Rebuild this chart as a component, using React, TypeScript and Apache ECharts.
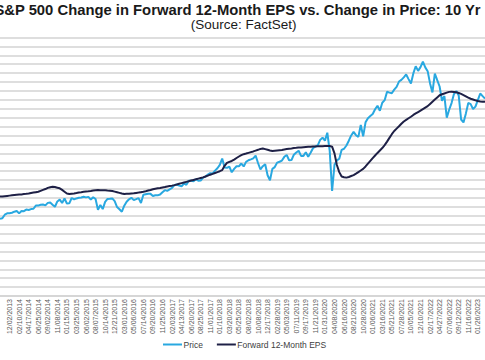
import React, { useEffect, useRef } from "react";
import * as echarts from "echarts";

const tickLabels = [
  "12/02/2013", "02/10/2014", "04/17/2014", "06/25/2014", "09/02/2014", "11/08/2014",
  "01/15/2015", "03/25/2015", "06/02/2015", "08/07/2015", "10/14/2015", "12/21/2015",
  "03/01/2016", "05/06/2016", "07/14/2016", "09/20/2016", "11/25/2016",
  "02/03/2017", "04/13/2017", "06/20/2017", "08/25/2017", "11/01/2017",
  "01/10/2018", "03/20/2018", "05/25/2018", "08/02/2018", "10/08/2018", "12/17/2018",
  "02/28/2019", "05/03/2019", "07/11/2019", "09/17/2019", "11/21/2019",
  "01/31/2020", "04/08/2020", "06/16/2020", "08/21/2020", "10/28/2020",
  "01/06/2021", "03/16/2021", "05/21/2021", "07/28/2021", "10/05/2021", "12/10/2021",
  "02/17/2022", "04/27/2022", "07/06/2022", "09/12/2022", "11/16/2022",
  "01/26/2023",
];

// S&P 500 price, sampled about every 12 trading days (4 samples per tick label)
const price = [
  1693, 1703, 1771, 1798, 1800, 1810, 1830, 1845, 1797, 1845,
  1841, 1872, 1864, 1881, 1888, 1950, 1950, 1967, 1970, 1955,
  2003, 2011, 1968, 1927, 2031, 2067, 2002, 2090, 1992, 1995,
  2099, 2071, 2091, 2102, 2108, 2122, 2111, 2121, 2068, 2114,
  2078, 1868, 1961, 1881, 2023, 2080, 2083, 2091, 2038, 1922,
  1877, 1829, 1948, 2027, 2073, 2102, 2057, 2076, 2096, 2001,
  2163, 2173, 2182, 2180, 2139, 2153, 2151, 2167, 2213, 2253,
  2239, 2268, 2297, 2351, 2364, 2342, 2329, 2384, 2357, 2439,
  2437, 2425, 2470, 2438, 2443, 2498, 2519, 2559, 2587, 2582,
  2636, 2683, 2748, 2873, 2698, 2691, 2717, 2604, 2671, 2723,
  2721, 2776, 2718, 2809, 2840, 2858, 2878, 2930, 2786, 2659,
  2723, 2760, 2546, 2448, 2671, 2706, 2793, 2811, 2834, 2907,
  2945, 2840, 2843, 2950, 2993, 3026, 2926, 2926, 2998, 2910,
  2986, 3076, 3110, 3132, 3240, 3283, 3225, 3380, 3024, 2237,
  2750, 2837, 2870, 3044, 3066, 3130, 3224, 3327, 3397, 3332,
  3298, 3534, 3310, 3585, 3667, 3709, 3748, 3841, 3911, 3811,
  3969, 4020, 4185, 4168, 4156, 4227, 4281, 4385, 4419, 4468,
  4524, 4433, 4346, 4545, 4685, 4595, 4669, 4778, 4663, 4589,
  4349, 4171, 4543, 4413, 4288, 4008, 4101, 3675, 3831, 3962,
  4140, 4199, 4110, 3640, 3583, 3760, 3965, 3941, 3845, 3893,
  4020, 4150, 4100, 4050,
];

// Forward 12-month EPS ($), same sampling
const eps = [
  121.5, 121.7, 122.0, 122.3, 122.6, 122.9, 123.2, 123.5, 123.8, 124.0,
  124.3, 124.6, 125.0, 125.5, 126.0, 126.5, 127.0, 128.0, 129.0, 130.0,
  131.3, 132.0, 132.5, 132.2, 131.5, 130.8, 129.0, 127.0, 125.0, 124.5,
  124.8, 125.1, 125.5, 126.0, 126.4, 126.9, 127.2, 127.5, 127.9, 128.3,
  128.7, 128.9, 128.7, 128.6, 128.5, 128.3, 128.2, 127.8, 127.1, 126.4,
  125.7, 125.0, 124.4, 124.6, 124.8, 125.0, 125.2, 125.6, 126.0, 126.5,
  127.0, 127.6, 128.3, 129.0, 129.8, 130.3, 130.8, 131.2, 131.7, 132.2,
  132.8, 133.3, 133.8, 134.4, 135.1, 135.9, 136.6, 137.3, 138.0, 138.7,
  139.5, 140.2, 140.9, 141.7, 142.4, 143.1, 144.1, 145.1, 146.1, 147.0,
  148.0, 149.0, 150.0, 151.2, 156.0, 159.3, 160.5, 161.5, 163.0, 164.8,
  166.5, 168.0, 169.1, 169.8, 170.6, 171.4, 172.2, 173.1, 174.0, 175.0,
  175.5, 174.8, 174.0, 173.2, 172.6, 172.9, 173.2, 173.5, 173.8, 174.3,
  174.8, 175.3, 175.6, 176.0, 176.2, 176.5, 176.7, 176.9, 177.1, 177.3,
  177.4, 177.6, 177.7, 177.9, 178.0, 178.1, 178.2, 178.2, 178.2, 177.5,
  170.0, 157.0, 149.0, 144.0, 143.2, 142.8, 143.5, 144.6, 145.6, 147.2,
  149.0, 150.8, 152.6, 155.3, 158.5, 161.6, 164.7, 167.6, 170.5, 173.3,
  176.0, 179.2, 183.2, 187.4, 191.5, 195.1, 197.8, 200.4, 203.2, 205.8,
  207.6, 209.4, 211.1, 213.1, 214.8, 216.4, 218.0, 219.7, 221.4, 223.0,
  225.5, 228.0, 230.4, 232.8, 235.2, 236.3, 237.2, 238.1, 239.0, 239.2,
  238.9, 238.5, 237.8, 236.8, 235.4, 234.0, 232.5, 231.3, 230.5, 229.5,
  228.8, 228.2, 228.0, 227.8,
];

const LABEL_START = 4;
const LABEL_STEP = 4;
const FONT = '"Liberation Sans", Arial, sans-serif';

export default function App() {
  const ref = useRef<HTMLDivElement>(null);

  useEffect(() => {
    if (!ref.current) return;
    const chart = echarts.init(ref.current, null, { renderer: "svg" });
    const isTick = (i: number) =>
      i >= LABEL_START &&
      (i - LABEL_START) % LABEL_STEP === 0 &&
      (i - LABEL_START) / LABEL_STEP < tickLabels.length;
    const categories = price.map((_, i) =>
      isTick(i) ? tickLabels[(i - LABEL_START) / LABEL_STEP] : "p" + i
    );

    chart.setOption({
      animation: false,
      backgroundColor: "#ffffff",
      graphic: [
        {
          type: "text",
          x: 237.5,
          y: 2.5,
          z: 10,
          style: {
            text: "S&P 500 Change in Forward 12-Month EPS vs. Change in Price: 10 Yr",
            font: `bold 14.8px ${FONT}`,
            fill: "#1a1a1a",
            align: "center",
            verticalAlign: "top",
          },
        },
        {
          type: "text",
          x: 243.7,
          y: 17.5,
          z: 10,
          style: {
            text: "(Source: FactSet)",
            font: `13.5px ${FONT}`,
            fill: "#1a1a1a",
            align: "center",
            verticalAlign: "top",
          },
        },
      ],
      legend: {
        data: ["Price", "Forward 12-Month EPS"],
        left: 163,
        top: 340,
        padding: 0,
        itemGap: 14,
        itemWidth: 19,
        itemHeight: 2,
        icon: "rect",
        textStyle: {
          fontSize: 8.5,
          color: "#404040",
          fontFamily: FONT,
          padding: [0, 0, 0, -3.5],
        },
      },
      grid: {
        left: -5.7,
        right: -1.4,
        top: 37.5,
        bottom: 64,
        containLabel: false,
      },
      xAxis: {
        type: "category",
        data: categories,
        boundaryGap: false,
        axisTick: { show: false },
        axisLine: { show: true, lineStyle: { color: "#d3d3d3", width: 1.5 } },
        splitLine: { show: false },
        axisLabel: {
          rotate: 90,
          interval: (index: number) => isTick(index),
          formatter: (value: string) => (value.startsWith("p") ? "" : value),
          fontSize: 7,
          fontFamily: FONT,
          color: "#595959",
          margin: 3,
        },
      },
      yAxis: [
        {
          type: "value",
          min: 10,
          max: 300,
          interval: 10,
          axisLabel: { show: false },
          axisLine: { show: false },
          axisTick: { show: false },
          splitLine: { show: true, lineStyle: { color: "#d3d3d3", width: 1.5 } },
        },
        {
          type: "value",
          min: 175,
          max: 5250,
          interval: 175,
          axisLabel: { show: false },
          axisLine: { show: false },
          axisTick: { show: false },
          splitLine: { show: false },
        },
      ],
      series: [
        {
          name: "Price",
          type: "line",
          yAxisIndex: 1,
          data: price,
          showSymbol: false,
          lineStyle: { color: "#29a8e0", width: 2 },
          itemStyle: { color: "#29a8e0" },
        },
        {
          name: "Forward 12-Month EPS",
          type: "line",
          yAxisIndex: 0,
          data: eps,
          showSymbol: false,
          lineStyle: { color: "#1e2046", width: 2 },
          itemStyle: { color: "#1e2046" },
        },
      ],
    });

    return () => chart.dispose();
  }, []);

  return (
    <div
      ref={ref}
      style={{ position: "fixed", left: 0, top: 0, width: 485, height: 360 }}
    />
  );
}
